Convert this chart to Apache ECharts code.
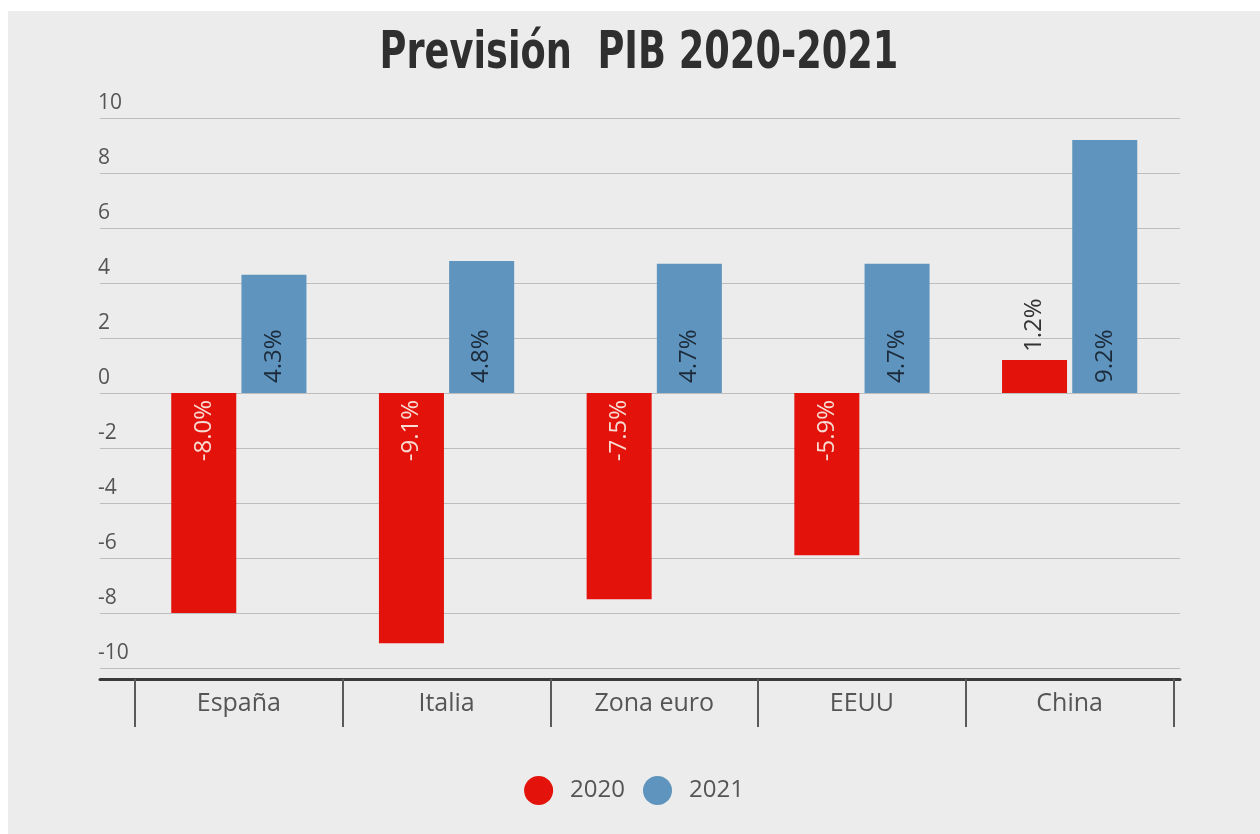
<!DOCTYPE html>
<html>
<head>
<meta charset="utf-8">
<script src="https://cdn.jsdelivr.net/npm/echarts@6/dist/echarts.min.js"></script>
<style>
  html, body { margin: 0; padding: 0; background: #ffffff; }
  #chart { position: absolute; left: 8px; top: 11px; width: 1252px; height: 823px; background: #ececec; }
</style>
</head>
<body>
<div id="chart"></div>
<script>
// Forecast GDP growth (%) by economy
const categories = ['España', 'Italia', 'Zona euro', 'EEUU', 'China'];
const pib2020 = [-8.0, -9.1, -7.5, -5.9, 1.2];
const pib2021 = [4.3, 4.8, 4.7, 4.7, 9.2];
const seriesNames = ['2020', '2021'];
const titleText = 'Previsión  PIB 2020-2021';

const RED = '#e3120b';
const BLUE = '#5e94bd';
const FONT = '"Open Sans", "Noto Sans", sans-serif';

const fmt = v => v.toFixed(1) + '%';

const el = document.getElementById('chart');
const chart = echarts.init(el, null, { renderer: 'canvas' });

const data2020 = pib2020.map(v => v < 0
  ? { value: v, label: { position: 'insideTop', align: 'right', distance: 7, color: '#f8dcd3' } }
  : { value: v, label: { position: 'top', align: 'left', distance: 8, color: '#333333' } });

const data2021 = pib2021.map(v => ({ value: v }));

chart.setOption({
  animation: false,
  graphic: [
    {
      // heading, condensed horizontally
      type: 'text',
      x: el.clientWidth / 2 + 5,
      y: 18,
      scaleX: 0.72,
      style: {
        text: titleText,
        textAlign: 'center',
        textVerticalAlign: 'top',
        fontFamily: '"DejaVu Sans", sans-serif',
        fontWeight: 'bold',
        fontSize: 51,
        fill: '#2f2f2f'
      }
    }
  ],
  legend: {
    data: seriesNames,
    bottom: 29,
    left: 'center',
    icon: 'circle',
    itemWidth: 29,
    itemHeight: 29,
    itemGap: 18,
    padding: 0,
    textStyle: { fontFamily: FONT, fontSize: 24, color: '#555555', padding: [0, 0, 0, 12] }
  },
  grid: [
    // full-width grid: horizontal rules, value labels and the base line
    { left: 92, right: 80, top: 107, bottom: 166 },
    // category band grid holding the bars
    { left: 127, right: 86.5, top: 107, bottom: 166 }
  ],
  xAxis: [
    {
      gridIndex: 0,
      type: 'value',
      min: 0,
      max: 1,
      offset: 11,
      axisLine: { show: true, onZero: false, lineStyle: { color: '#3a3a3a', width: 3 } },
      axisTick: { show: false },
      axisLabel: { show: false },
      splitLine: { show: false }
    },
    {
      gridIndex: 1,
      type: 'category',
      data: categories,
      offset: 11,
      axisLine: { show: false, onZero: false },
      axisTick: { show: true, length: 48, lineStyle: { color: '#5a5a5a', width: 2 } },
      axisLabel: { margin: 12, fontFamily: FONT, fontSize: 25, color: '#555555' },
      splitLine: { show: false }
    }
  ],
  yAxis: [
    {
      gridIndex: 0,
      type: 'value',
      min: -10,
      max: 10,
      interval: 2,
      axisLine: { show: false },
      axisTick: { show: false },
      axisLabel: {
        align: 'left',
        verticalAlign: 'bottom',
        margin: 2,
        padding: [0, 0, 4, 0],
        fontFamily: FONT,
        fontSize: 21,
        color: '#555555'
      },
      splitLine: { show: true, lineStyle: { color: '#bdbdbd', width: 1 } }
    },
    {
      gridIndex: 1,
      type: 'value',
      min: -10,
      max: 10,
      interval: 2,
      show: false,
      splitLine: { show: false }
    }
  ],
  series: [
    {
      name: seriesNames[0],
      type: 'bar',
      xAxisIndex: 1,
      yAxisIndex: 1,
      barWidth: '31.3%',
      barGap: '8%',
      itemStyle: { color: RED },
      label: {
        show: true,
        rotate: 90,
        verticalAlign: 'middle',
        fontFamily: FONT,
        fontSize: 24,
        formatter: p => fmt(p.value)
      },
      data: data2020
    },
    {
      name: seriesNames[1],
      type: 'bar',
      xAxisIndex: 1,
      yAxisIndex: 1,
      barWidth: '31.3%',
      barGap: '8%',
      itemStyle: { color: BLUE },
      label: {
        show: true,
        position: 'insideBottom',
        rotate: 90,
        align: 'left',
        verticalAlign: 'middle',
        distance: 10,
        fontFamily: FONT,
        fontSize: 24,
        color: '#1c2a3a',
        formatter: p => fmt(p.value)
      },
      data: data2021
    }
  ]
});
</script>
</body>
</html>
